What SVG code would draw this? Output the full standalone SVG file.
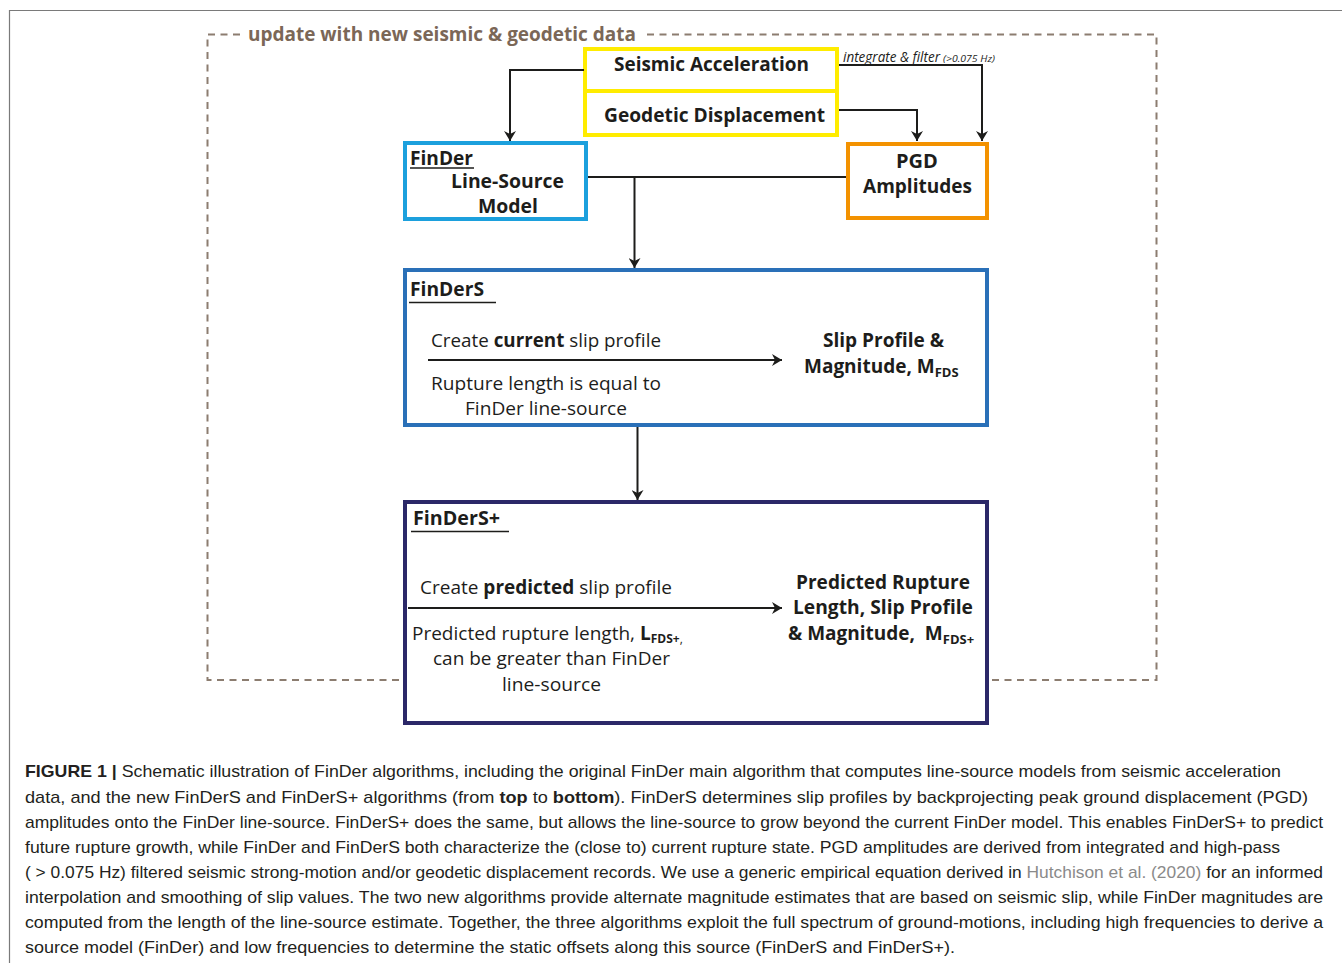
<svg xmlns="http://www.w3.org/2000/svg" width="1342" height="963" viewBox="0 0 1342 963">
<style>
.b{font-family:"Open Sans","Noto Sans","Liberation Sans",sans-serif;font-weight:700;fill:#1d1d1b}
.r{font-family:"Open Sans","Noto Sans","Liberation Sans",sans-serif;font-weight:400;fill:#1d1d1b}
.cap{font-family:"Liberation Sans","Arimo",sans-serif;font-size:17px;fill:#231f20}
.cb{font-weight:700}
.conn{fill:none;stroke:#1d1d1b;stroke-width:2}
.box{fill:#fff;stroke-width:4}
</style>
<defs>
<marker id="ah" markerWidth="10" markerHeight="12" refX="10" refY="6" orient="auto" markerUnits="userSpaceOnUse">
<path d="M0,0 L10,6 L0,12 L3,6 Z" fill="#1d1d1b"/>
</marker>
</defs>
<rect width="1342" height="963" fill="#fff"/>
<!-- page frame -->
<path d="M9.5,963 V10.5 H1342" fill="none" stroke="#7a7a7a" stroke-width="1.2"/>
<!-- dashed update loop -->
<g id="update-loop">
<path d="M240,34.5 H207.5 V680 H1156.5 V34.5 H645" fill="none" stroke="#8c7d70" stroke-width="2" stroke-dasharray="7,5.5"/>
<text x="248" y="41" class="b" font-size="20" style="fill:#7b6757" textLength="388" lengthAdjust="spacingAndGlyphs">update with new seismic &amp; geodetic data</text>
</g>
<!-- inputs -->
<g id="seismic-acceleration">
<rect class="box" x="585" y="49" width="252" height="42" stroke="#ffec00"/>
<text x="614" y="71" class="b" font-size="20" textLength="195" lengthAdjust="spacingAndGlyphs">Seismic Acceleration</text>
</g>
<g id="geodetic-displacement">
<rect class="box" x="585" y="91" width="252" height="44" stroke="#ffec00"/>
<text x="604" y="122" class="b" font-size="20" textLength="221" lengthAdjust="spacingAndGlyphs">Geodetic Displacement</text>
</g>
<g id="finder">
<rect class="box" x="405" y="143" width="181" height="76" stroke="#1ca0dd"/>
<text x="410" y="165" class="b" font-size="19" textLength="63" lengthAdjust="spacingAndGlyphs">FinDer</text>
<line x1="410" y1="168" x2="474" y2="168" stroke="#1d1d1b" stroke-width="1.5"/>
<text x="451" y="188" class="b" font-size="20" textLength="113" lengthAdjust="spacingAndGlyphs">Line-Source</text>
<text x="478" y="213" class="b" font-size="20" textLength="60" lengthAdjust="spacingAndGlyphs">Model</text>
</g>
<g id="pgd">
<rect class="box" x="848" y="144" width="139" height="74" stroke="#f39200"/>
<text x="917" y="168" class="b" font-size="20" text-anchor="middle">PGD</text>
<text x="863" y="193" class="b" font-size="20" textLength="109" lengthAdjust="spacingAndGlyphs">Amplitudes</text>
</g>
<g id="finders">
<rect class="box" x="405" y="270" width="582" height="155" stroke="#2a70b8"/>
<text x="410" y="296" class="b" font-size="19" textLength="74" lengthAdjust="spacingAndGlyphs">FinDerS</text>
<line x1="409" y1="302.5" x2="496" y2="302.5" stroke="#1d1d1b" stroke-width="1.5"/>
<text x="431" y="347" class="r" font-size="19" textLength="230" lengthAdjust="spacingAndGlyphs">Create <tspan font-weight="700">current</tspan> slip profile</text>
<text x="431" y="390" class="r" font-size="19" textLength="230" lengthAdjust="spacingAndGlyphs">Rupture length is equal to</text>
<text x="465" y="415" class="r" font-size="19" textLength="162" lengthAdjust="spacingAndGlyphs">FinDer line-source</text>
<text x="823" y="347" class="b" font-size="19" textLength="121" lengthAdjust="spacingAndGlyphs">Slip Profile &amp;</text>
<text x="804" y="373" class="b" font-size="19">Magnitude, M<tspan font-size="13" dy="4">FDS</tspan></text>
</g>
<g id="finders-plus">
<rect class="box" x="405" y="502" width="582" height="221" stroke="#2b2868"/>
<text x="413" y="525" class="b" font-size="19" textLength="87" lengthAdjust="spacingAndGlyphs">FinDerS+</text>
<line x1="411" y1="531.5" x2="509" y2="531.5" stroke="#1d1d1b" stroke-width="1.5"/>
<text x="420" y="594" class="r" font-size="19" textLength="252" lengthAdjust="spacingAndGlyphs">Create <tspan font-weight="700">predicted</tspan> slip profile</text>
<text x="412" y="640" class="r" font-size="19">Predicted rupture length, <tspan font-weight="700">L</tspan><tspan font-weight="700" font-size="12" dy="3">FDS+</tspan><tspan font-size="12">,</tspan></text>
<text x="433" y="665" class="r" font-size="19" textLength="237" lengthAdjust="spacingAndGlyphs">can be greater than FinDer</text>
<text x="502" y="691" class="r" font-size="19" textLength="99" lengthAdjust="spacingAndGlyphs">line-source</text>
<text x="796" y="589" class="b" font-size="19" textLength="174" lengthAdjust="spacingAndGlyphs">Predicted Rupture</text>
<text x="793" y="614" class="b" font-size="19" textLength="180" lengthAdjust="spacingAndGlyphs">Length, Slip Profile</text>
<text x="788" y="640" class="b" font-size="19">&amp; Magnitude,&#160; M<tspan font-size="13" dy="4">FDS+</tspan></text>
</g>
<!-- connectors -->
<g id="connectors">
<path class="conn" d="M584,70 H510 V141" marker-end="url(#ah)"/>
<path class="conn" d="M839,65 H982 V141" marker-end="url(#ah)"/>
<path class="conn" d="M839,110 H917 V141" marker-end="url(#ah)"/>
<path class="conn" d="M588,177 H846"/>
<path class="conn" stroke-width="1.5" d="M634.5,177 V268" marker-end="url(#ah)"/>
<path class="conn" d="M637.5,427 V500" marker-end="url(#ah)"/>
<path class="conn" d="M428,360 H782" marker-end="url(#ah)"/>
<path class="conn" d="M408,608 H782" marker-end="url(#ah)"/>
<text x="843" y="62" class="r" font-size="14" font-style="italic" textLength="97" lengthAdjust="spacingAndGlyphs">integrate &amp; filter</text>
<text x="943" y="62" class="r" font-size="9" font-style="italic" textLength="52" lengthAdjust="spacingAndGlyphs">(&gt;0.075 Hz)</text>
</g>
<!-- caption -->
<g id="caption">
<text class="cap" x="25" y="777" textLength="1256" lengthAdjust="spacingAndGlyphs"><tspan class="cb">FIGURE 1 |</tspan> Schematic illustration of FinDer algorithms, including the original FinDer main algorithm that computes line-source models from seismic acceleration</text>
<text class="cap" x="25" y="803" textLength="1283" lengthAdjust="spacingAndGlyphs">data, and the new FinDerS and FinDerS+ algorithms (from <tspan class="cb">top</tspan> to <tspan class="cb">bottom</tspan>). FinDerS determines slip profiles by backprojecting peak ground displacement (PGD)</text>
<text class="cap" x="25" y="828" textLength="1298" lengthAdjust="spacingAndGlyphs">amplitudes onto the FinDer line-source. FinDerS+ does the same, but allows the line-source to grow beyond the current FinDer model. This enables FinDerS+ to predict</text>
<text class="cap" x="25" y="853" textLength="1255" lengthAdjust="spacingAndGlyphs">future rupture growth, while FinDer and FinDerS both characterize the (close to) current rupture state. PGD amplitudes are derived from integrated and high-pass</text>
<text class="cap" x="25" y="878" textLength="1298" lengthAdjust="spacingAndGlyphs">( &gt; 0.075 Hz) filtered seismic strong-motion and/or geodetic displacement records. We use a generic empirical equation derived in <tspan fill="#8a8a8a">Hutchison et al. (2020)</tspan> for an informed</text>
<text class="cap" x="25" y="903" textLength="1298" lengthAdjust="spacingAndGlyphs">interpolation and smoothing of slip values. The two new algorithms provide alternate magnitude estimates that are based on seismic slip, while FinDer magnitudes are</text>
<text class="cap" x="25" y="928" textLength="1298" lengthAdjust="spacingAndGlyphs">computed from the length of the line-source estimate. Together, the three algorithms exploit the full spectrum of ground-motions, including high frequencies to derive a</text>
<text class="cap" x="25" y="953" textLength="930" lengthAdjust="spacingAndGlyphs">source model (FinDer) and low frequencies to determine the static offsets along this source (FinDerS and FinDerS+).</text>
</g>
</svg>
